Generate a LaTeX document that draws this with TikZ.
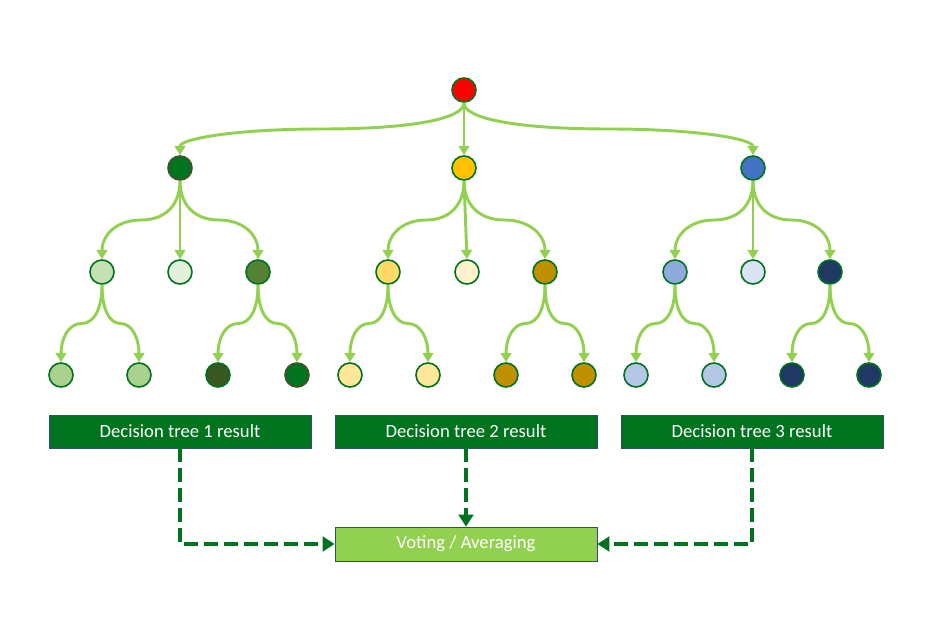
\documentclass[tikz,border=0pt]{standalone}
\usepackage{fontspec}
\setmainfont{Carlito}
\usetikzlibrary{arrows.meta,calc}
\definecolor{dgreen}{HTML}{00731F}
\definecolor{lgreen}{HTML}{92D050}
\definecolor{olive}{RGB}{70,80,40}
\definecolor{boxline}{HTML}{2F4F6F}
\definecolor{gA}{HTML}{C5E0B4}
\definecolor{gB}{HTML}{E2F0D9}
\definecolor{gC}{HTML}{548235}
\definecolor{gD}{HTML}{A9D18E}
\definecolor{gE}{HTML}{385723}
\definecolor{yA}{HTML}{FFC000}
\definecolor{yB}{HTML}{FFD966}
\definecolor{yC}{HTML}{FFF2CC}
\definecolor{yD}{HTML}{BF9000}
\definecolor{yE}{HTML}{FFE699}
\definecolor{bA}{HTML}{4472C4}
\definecolor{bB}{HTML}{8FAADC}
\definecolor{bC}{HTML}{DAE3F3}
\definecolor{bD}{HTML}{203864}
\definecolor{bE}{HTML}{B4C7E7}
\begin{document}
\begin{tikzpicture}[x=0.75pt,y=-0.75pt,
  dot/.style={circle,draw=dgreen,line width=1.2pt,minimum size=18pt,inner sep=0pt},
  conn/.style={draw=lgreen,line width=2.2pt,-{Triangle[width=8pt,length=7pt]}},
  scurve/.style={to path={let \p1=(\tikztostart),\p2=(\tikztotarget),\p3=($(\p1)!.5!(\p2)$),
       \p4=(\x1,\y3),\p5=(\x2,\y3) in
     .. controls ($(\p1)!.62!(\p4)$) and ($(\p3)!.62!(\p4)$) .. (\p3)
     .. controls ($(\p3)!.62!(\p5)$) and ($(\p2)!.62!(\p5)$) .. (\p2) \tikztonodes}},
  resbox/.style={rectangle,fill=dgreen,draw=boxline,line width=0.6pt,minimum width=196.5pt,minimum height=24.75pt,inner sep=0pt,text=white,font=\fontsize{14pt}{16pt}\selectfont},
  dasharrow/.style={draw=dgreen,line width=3pt,dash pattern=on 10pt off 5pt,-{Triangle[width=11pt,length=9pt]}}
]
\useasboundingbox (0,0) rectangle (932,620);
% root
\node[dot,fill=red] (r) at (464,90) {};
% level 1
\node[dot,fill=dgreen,draw=olive] (t1) at (180,168) {};
\node[dot,fill=yA] (t2) at (464,168) {};
\node[dot,fill=bA] (t3) at (753,168) {};
% level 2 tree 1
\node[dot,fill=gA] (t1a) at (102,272) {};
\node[dot,fill=gB] (t1b) at (180,272) {};
\node[dot,fill=gC] (t1c) at (258,272) {};
% level 2 tree 2
\node[dot,fill=yB] (t2a) at (388,272) {};
\node[dot,fill=yC] (t2b) at (467,272) {};
\node[dot,fill=yD] (t2c) at (545,272) {};
% level 2 tree 3
\node[dot,fill=bB] (t3a) at (675,272) {};
\node[dot,fill=bC] (t3b) at (753,272) {};
\node[dot,fill=bD] (t3c) at (830,272) {};
% level 3
\node[dot,fill=gD] (t1a1) at (61,375) {};
\node[dot,fill=gD] (t1a2) at (139,375) {};
\node[dot,fill=gE] (t1c1) at (218,375) {};
\node[dot,fill=dgreen,draw=olive] (t1c2) at (297,375) {};
\node[dot,fill=yE] (t2a1) at (350,375) {};
\node[dot,fill=yE] (t2a2) at (428,375) {};
\node[dot,fill=yD] (t2c1) at (506,375) {};
\node[dot,fill=yD] (t2c2) at (584,375) {};
\node[dot,fill=bE] (t3a1) at (636,375) {};
\node[dot,fill=bE] (t3a2) at (714,375) {};
\node[dot,fill=bD] (t3c1) at (792,375) {};
\node[dot,fill=bD] (t3c2) at (869,375) {};
% connectors
\draw[conn] (r.south) to[scurve] (t1.north);
\draw[conn] (r.south) -- (t2.north);
\draw[conn] (r.south) to[scurve] (t3.north);
\foreach \t in {t1,t2,t3}{
  \draw[conn] (\t.south) to[scurve] (\t a.north);
  \draw[conn] (\t.south) -- (\t b.north);
  \draw[conn] (\t.south) to[scurve] (\t c.north);
  \draw[conn] (\t a.south) to[scurve] (\t a1.north);
  \draw[conn] (\t a.south) to[scurve] (\t a2.north);
  \draw[conn] (\t c.south) to[scurve] (\t c1.north);
  \draw[conn] (\t c.south) to[scurve] (\t c2.north);
}
% result boxes
\node[resbox] (b1) at (180,431.5) {Decision tree 1 result};
\node[resbox] (b2) at (466,431.5) {Decision tree 2 result};
\node[resbox] (b3) at (752,431.5) {Decision tree 3 result};
\node[resbox,fill=lgreen,minimum height=25.5pt] (v) at (466,544) {Voting / Averaging};
\draw[dasharrow] (b1.south) |- (v.west);
\draw[dasharrow] (b2.south) -- (v.north);
\draw[dasharrow] (b3.south) |- (v.east);
\end{tikzpicture}
\end{document}
